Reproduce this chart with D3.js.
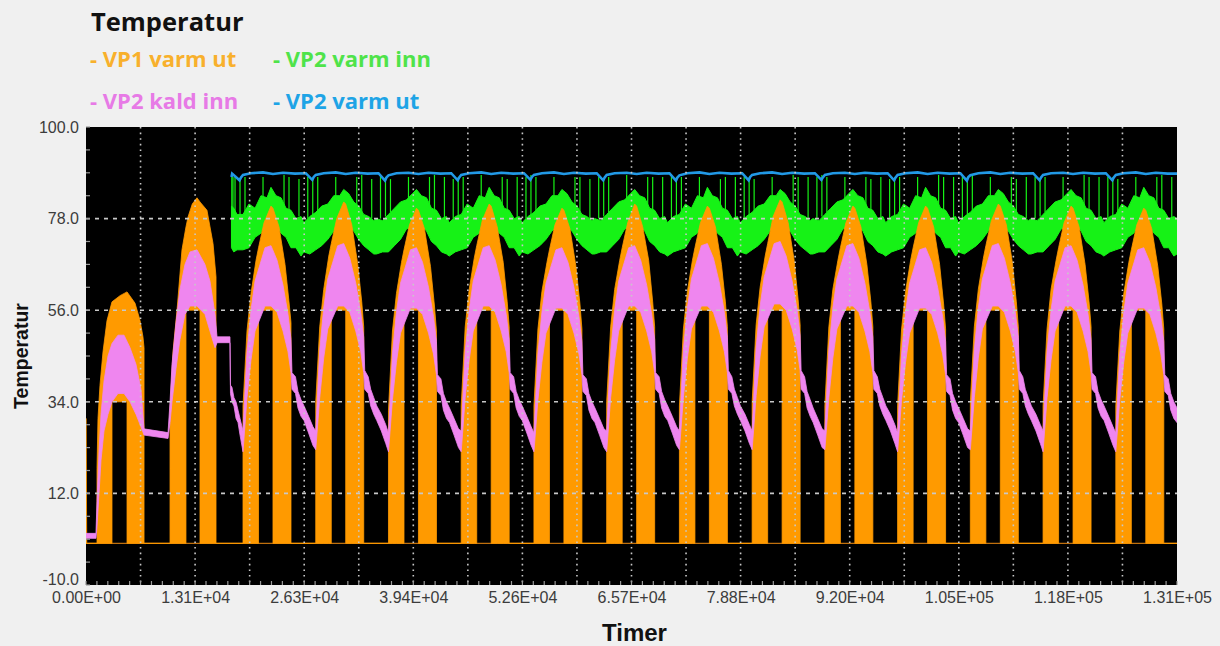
<!DOCTYPE html>
<html>
<head>
<meta charset="utf-8">
<script src="https://cdn.jsdelivr.net/npm/d3@7/dist/d3.min.js"></script>
<style>
  html, body { margin: 0; padding: 0; background: #f0f0f0; }
  svg { display: block; }
</style>
</head>
<body>
<svg id="chart" width="1220" height="646"></svg>
<script>
// ---- Axis ticks (hours / °C) ----
const hourTicks = [0, 13140, 26280, 39420, 52560, 65700, 78840, 91980, 105120, 118260, 131400];
const hourTickLabels = ["0.00E+00", "1.31E+04", "2.63E+04", "3.94E+04", "5.26E+04", "6.57E+04",
                        "7.88E+04", "9.20E+04", "1.05E+05", "1.18E+05", "1.31E+05"];
const tempTicks = [-10, 12, 34, 56, 78, 100];
const seriesNames = ["VP1 varm ut", "VP2 varm inn", "VP2 kald inn", "VP2 varm ut"];

// ---- VP1 varm ut: [hour, lower, upper] envelope of the on/off signal ----
const vp1VarmUt = [
  [0,0,30],[90,0,0],
  [1325,0,0],[1325,0,18],[1445,0,30],[1686,0,38],[2048,0,46],[2529,0,53.5],[3130,0,58],[3130,34,58],[4100,34,59.5],[4940,34,60.4],[4940,0,60.4],[5900,0,57.7],[6500,0,53.6],[6860,0,49.6],[6990,0,47],[6990,0,0],
  [10120,0,0],[10120,0,32],[10480,0,46],[10960,0,56],[11560,0,70.5],[12040,0,76],[12040,56,76],[12290,56,78.4],[12800,56,81.5],[13370,56,83],[13730,56,82],[13730,0,82],[14570,0,80],[15300,0,72],[15660,0,64],[15660,0,0],
  [18910,0,0],[18910,0,33],[19390,0,51],[19870,0,60],[20480,0,68],[20780,0,71],[20780,56,71],[21440,56,77],[22280,56,81],[22520,56,80.5],[22520,0,80.5],[23250,0,76],[23970,0,67],[24450,0,58],[24690,0,53],[24690,0,0],
  [27670,0,0],[27670,0,34],[28150,0,52],[28630,0,61],[29240,0,69],[29540,0,72],[29540,56,72],[30200,56,78],[31040,56,82],[31280,56,81.5],[31280,0,81.5],[32010,0,76.5],[32730,0,67],[33210,0,58],[33450,0,52],[33450,0,0],
  [36430,0,0],[36430,0,32],[36910,0,51],[37390,0,60],[38000,0,67.5],[38300,0,70.5],[38300,56,70.5],[38960,56,76.5],[39800,56,80.5],[40040,56,80],[40040,0,80],[40770,0,75.5],[41490,0,66.5],[41970,0,57],[42210,0,51],[42210,0,0],
  [45190,0,0],[45190,0,33],[45670,0,52],[46150,0,61],[46760,0,68.5],[47060,0,71.5],[47060,56,71.5],[47720,56,77.5],[48560,56,81.5],[48800,56,81],[48800,0,81],[49530,0,76],[50250,0,67.5],[50730,0,58],[50970,0,52],[50970,0,0],
  [53950,0,0],[53950,0,33],[54430,0,51.5],[54910,0,60.5],[55520,0,67.5],[55820,0,70.5],[55820,56,70.5],[56480,56,76.5],[57320,56,80.5],[57560,56,80],[57560,0,80],[58290,0,75.5],[59010,0,66.5],[59490,0,57.5],[59730,0,51.5],[59730,0,0],
  [62710,0,0],[62710,0,34],[63190,0,52],[63670,0,61],[64280,0,68],[64580,0,71],[64580,56,71],[65240,56,77],[66080,56,81.5],[66320,56,81],[66320,0,81],[67050,0,76],[67770,0,68],[68250,0,58],[68490,0,52],[68490,0,0],
  [71470,0,0],[71470,0,33],[71950,0,51.5],[72430,0,60.5],[73040,0,68],[73340,0,71],[73340,56,71],[74000,56,77],[74840,56,81],[75080,56,80.5],[75080,0,80.5],[75810,0,76],[76530,0,67],[77010,0,58],[77250,0,52],[77250,0,0],
  [80230,0,0],[80230,0,34],[80710,0,52.5],[81190,0,61.5],[81800,0,69],[82100,0,72],[82100,56,72],[82760,56,78.5],[83600,56,82.5],[83840,56,82],[83840,0,82],[84570,0,77],[85290,0,68],[85770,0,58.5],[86010,0,52.5],[86010,0,0],
  [88990,0,0],[88990,0,33],[89470,0,52],[89950,0,61],[90560,0,68],[90860,0,71],[90860,56,71],[91520,56,77],[92360,56,81],[92600,56,80.5],[92600,0,80.5],[93330,0,76],[94050,0,67],[94530,0,58],[94770,0,52],[94770,0,0],
  [97750,0,0],[97750,0,33],[98230,0,51.5],[98710,0,60.5],[99320,0,68],[99620,0,71],[99620,56,71],[100280,56,77],[101120,56,81],[101360,56,80.5],[101360,0,80.5],[102090,0,76],[102810,0,67],[103290,0,57.5],[103530,0,51.5],[103530,0,0],
  [106510,0,0],[106510,0,34],[106990,0,52],[107470,0,61],[108080,0,68.5],[108380,0,71.5],[108380,56,71.5],[109040,56,77.5],[109880,56,81.5],[110120,56,81],[110120,0,81],[110850,0,76.5],[111570,0,67.5],[112050,0,58],[112290,0,52],[112290,0,0],
  [115270,0,0],[115270,0,33],[115750,0,51.5],[116230,0,61],[116840,0,68],[117140,0,71],[117140,56,71],[117800,56,77],[118640,56,81],[118880,56,80.5],[118880,0,80.5],[119610,0,76],[120330,0,67],[120810,0,58],[121050,0,52],[121050,0,0],
  [124030,0,0],[124030,0,33],[124510,0,51],[124990,0,60],[125600,0,67.5],[125900,0,70.5],[125900,56,70.5],[126560,56,76.5],[127400,56,80.5],[127640,56,80],[127640,0,80],[128370,0,75.5],[129090,0,66.5],[129570,0,57.5],[129810,0,51.5],[129810,0,0],
  [131400,0,0]
];

// ---- VP2 kald inn: [hour, lower, upper] ----
const vp2KaldInn = [
  [0,1.2,2.4],[1200,1.2,2.4],[1325,4,10],[1570,12,22],[1810,20,31],[2170,27,39],[2650,31,45],[3130,34,48],[3850,36,50],[4580,36,50],[5300,34,47],[6020,31,43],[6620,28,37],[6990,26,27.5],[9880,25.2,26.6],
  [10120,29,34],[10360,34,43],[10840,42,53],[11320,49,61],[11920,55,67],[12530,57,70],[13370,57,70.5],[14330,55,67],[14930,51,63],[15540,47,55],[15780,48.2,49.6],[17340,48.2,49.6],[17400,36,38],[17580,34,37.5],[17820,33,35],[18070,30,34],[18310,29,32],[18550,26,30],
  [18910,22,27],[19390,35,46],[19870,44,56],[20360,51,63],[21560,57,71],[22280,57,71.5],[23010,55.5,68],[23730,51,62],[24330,46,55],[24690,41,49],[24810,37,41],[25230,36,40],[25530,32.5,36.5],[25900,30.5,34.5],[26260,29.5,33],[26810,26.5,30.5],[27340,23.5,28],
  [27670,22.5,27],[28150,35,46.5],[28630,44.5,56.5],[29120,51.5,63.5],[30320,57,71.5],[31040,57,72],[31770,55.5,68.5],[32490,51,62.5],[33090,46,55.5],[33450,41,49.5],[33570,37,41.5],[33990,36,40],[34290,33,37],[34660,31,35],[35020,29.5,33],[35570,27,31],[36100,24,28.5],
  [36430,22,26.5],[36910,34.5,45.5],[37390,43.5,55.5],[37880,50.5,62.5],[39080,56.5,70.5],[39800,56.5,71],[40530,55,67.5],[41250,50.5,61.5],[41850,45.5,54.5],[42210,40.5,48.5],[42330,36.5,40.5],[42750,35.5,39.5],[43050,32,36],[43420,30,34],[43780,29,32.5],[44330,26,30],[44860,23,27.5],
  [45190,22,27],[45670,35,46],[46150,44,56],[46640,51,63],[47840,57,71],[48560,57,71.5],[49290,55.5,68],[50010,51,62],[50610,46,55],[50970,41,49],[51090,37,41],[51510,36,40],[51810,32.5,36.5],[52180,30.5,34.5],[52540,29.5,33],[53090,26.5,30.5],[53620,23.5,28],
  [53950,22,26.5],[54430,34.5,45.5],[54910,43.5,55.5],[55400,50.5,62.5],[56600,56.5,70.5],[57320,56.5,71],[58050,55,67.5],[58770,50.5,61.5],[59370,45.5,54.5],[59730,40.5,48.5],[59850,36.5,40.5],[60270,35.5,39.5],[60570,32,36],[60940,30,34],[61300,29,32.5],[61850,26,30],[62380,23,27.5],
  [62710,22,27],[63190,35,46],[63670,44,56],[64160,51,63],[65360,57,71],[66080,57,71.5],[66810,55.5,68],[67530,51,62],[68130,46,55],[68490,41,49],[68610,37,41],[69030,36,40],[69330,32.5,36.5],[69700,30.5,34.5],[70060,29.5,33],[70610,26.5,30.5],[71140,23.5,28],
  [71470,22.5,27],[71950,35,46.5],[72430,44.5,56.5],[72920,51.5,63.5],[74120,57,71.5],[74840,57,72],[75570,55.5,68.5],[76290,51,62.5],[76890,46,55.5],[77250,41,49.5],[77370,37,41.5],[77790,36,40],[78090,33,37],[78460,31,35],[78820,29.5,33],[79370,27,31],[79900,24,28.5],
  [80230,22.5,27],[80710,35.5,47],[81190,45,57],[81680,52,64],[82880,57.5,72],[83600,57.5,72.5],[84330,56,69],[85050,51.5,63],[85650,46.5,56],[86010,41.5,50],[86130,37,41.5],[86550,36,40],[86850,32.5,36.5],[87220,30.5,34.5],[87580,29,32.5],[88130,26,30],[88660,23,27.5],
  [88990,22.5,27],[89470,35,46.5],[89950,44.5,56.5],[90440,51.5,63.5],[91640,57,71.5],[92360,57,72],[93090,55.5,68.5],[93810,51,62.5],[94410,46,55.5],[94770,41,49.5],[94890,37,41.5],[95310,36,40],[95610,33,37],[95980,31,35],[96340,29.5,33],[96890,27,31],[97420,24,28.5],
  [97750,22,26.5],[98230,34.5,45.5],[98710,43.5,55.5],[99200,50.5,62.5],[100400,56.5,70.5],[101120,56.5,71],[101850,55,67.5],[102570,50.5,61.5],[103170,45.5,54.5],[103530,40.5,48.5],[103650,36.5,40.5],[104070,35.5,39.5],[104370,32,36],[104740,30,34],[105100,29,32.5],[105650,26,30],[106180,23,27.5],
  [106510,22.5,27],[106990,35,46.5],[107470,44.5,56.5],[107960,51.5,63.5],[109160,57,71.5],[109880,57,72],[110610,55.5,68.5],[111330,51,62.5],[111930,46,55.5],[112290,41,49.5],[112410,37,41.5],[112830,36,40],[113130,33,37],[113500,31,35],[113860,29.5,33],[114410,27,31],[114940,24,28.5],
  [115270,22,27],[115750,35,46],[116230,44,56],[116720,51,63],[117920,57,71],[118640,57,71.5],[119370,55.5,68],[120090,51,62],[120690,46,55],[121050,41,49],[121170,37,41],[121590,36,40],[121890,32.5,36.5],[122260,30.5,34.5],[122620,29.5,33],[123170,26.5,30.5],[123700,23.5,28],
  [124030,22,26.5],[124510,34.5,45.5],[124990,43.5,55.5],[125480,50.5,62.5],[126680,56.5,70.5],[127400,56.5,71],[128130,55,67.5],[128850,50.5,61.5],[129450,45.5,54.5],[129810,40.5,48.5],[129930,36.5,40.5],[130350,35.5,39.5],[130650,32,36],[131020,30,34],[131400,29,32.5]
];

// ---- VP2 varm inn: [hour, lower, upper] band ----
const vp2VarmInn = [
  [17520,71,81],[17800,70,80.5],[18190,70.5,79],
  [18910,70.5,79],[19630,71,81.5],[20360,73.5,80.5],[21080,74.5,83.5],[21800,77,83],[22280,77,85.5],[22880,76.5,83.5],[23490,74.5,83],[24090,73.5,80.5],[24690,71,80],[25290,71,78],[25900,69,78.5],[26230,70,77],[26950,69.5,78.5],
  [27670,70.5,79.5],[28390,71.5,81],[29120,73,81.5],[29840,75,83.5],[30560,76.5,83.5],[31040,77.5,85],[31640,76,84],[32250,75,82],[32850,73,81],[33450,71.5,79],[34050,70.5,78.5],[34660,69.5,77.5],[34990,69.5,78],[35710,70,77.5],
  [36430,70,79],[37150,71.5,80.5],[37880,73,82],[38600,75.5,82.5],[39320,76,84],[39800,77.5,85],[40400,76.5,83.5],[41010,75,83],[41610,72.5,80.5],[42210,71.5,80],[42810,70,78],[43420,69.5,78.5],[43750,69,77],[44470,70,78.5],
  [45190,70.5,79],[45910,71,81.5],[46640,73.5,80.5],[47360,74.5,83.5],[48080,77,83],[48560,77,85.5],[49160,76.5,83.5],[49770,74.5,83],[50370,73.5,80.5],[50970,71,80],[51570,71,78],[52180,69,78.5],[52510,70,77],[53230,69.5,78.5],
  [53950,70.5,79.5],[54670,71.5,81],[55400,73,81.5],[56120,75,83.5],[56840,76.5,83.5],[57320,77.5,85],[57920,76,84],[58530,75,82],[59130,73,81],[59730,71.5,79],[60330,70.5,78.5],[60940,69.5,77.5],[61270,69.5,78],[61990,70,77.5],
  [62710,70,79],[63430,71.5,80.5],[64160,73,82],[64880,75.5,82.5],[65600,76,84],[66080,77.5,85],[66680,76.5,83.5],[67290,75,83],[67890,72.5,80.5],[68490,71.5,80],[69090,70,78],[69700,69.5,78.5],[70030,69,77],[70750,70,78.5],
  [71470,70.5,79],[72190,71,81.5],[72920,73.5,80.5],[73640,74.5,83.5],[74360,77,83],[74840,77,85.5],[75440,76.5,83.5],[76050,74.5,83],[76650,73.5,80.5],[77250,71,80],[77850,71,78],[78460,69,78.5],[78790,70,77],[79510,69.5,78.5],
  [80230,70.5,79.5],[80950,71.5,81],[81680,73,81.5],[82400,75,83.5],[83120,76.5,83.5],[83600,77.5,85],[84200,76,84],[84810,75,82],[85410,73,81],[86010,71.5,79],[86610,70.5,78.5],[87220,69.5,77.5],[87550,69.5,78],[88270,70,77.5],
  [88990,70,79],[89710,71.5,80.5],[90440,73,82],[91160,75.5,82.5],[91880,76,84],[92360,77.5,85],[92960,76.5,83.5],[93570,75,83],[94170,72.5,80.5],[94770,71.5,80],[95370,70,78],[95980,69.5,78.5],[96310,69,77],[97030,70,78.5],
  [97750,70.5,79],[98470,71,81.5],[99200,73.5,80.5],[99920,74.5,83.5],[100640,77,83],[101120,77,85.5],[101720,76.5,83.5],[102330,74.5,83],[102930,73.5,80.5],[103530,71,80],[104130,71,78],[104740,69,78.5],[105070,70,77],[105790,69.5,78.5],
  [106510,70.5,79.5],[107230,71.5,81],[107960,73,81.5],[108680,75,83.5],[109400,76.5,83.5],[109880,77.5,85],[110480,76,84],[111090,75,82],[111690,73,81],[112290,71.5,79],[112890,70.5,78.5],[113500,69.5,77.5],[113830,69.5,78],[114550,70,77.5],
  [115270,70,79],[115990,71.5,80.5],[116720,73,82],[117440,75.5,82.5],[118160,76,84],[118640,77.5,85],[119240,76.5,83.5],[119850,75,83],[120450,72.5,80.5],[121050,71.5,80],[121650,70,78],[122260,69.5,78.5],[122590,69,77],[123310,70,78.5],
  [124030,70.5,79],[124750,71,81.5],[125480,73.5,80.5],[126200,74.5,83.5],[126920,77,83],[127400,77,85.5],[128000,76.5,83.5],[128610,74.5,83],[129210,73.5,80.5],[129810,71,80],[130410,71,78],[131020,69,78.5],[131400,69.5,78]
];

// Short excursions of VP2 varm inn: [hour, from, to]
const vp2VarmInnSpikes = [
  [17560,72,88.5],[17700,71,88],
  [17950,79,88],[18550,78.5,87.5],[19150,79,88],[21320,83,88],[23850,81,88.5],[24450,80,88],[25650,78.5,87.5],
  [26710,78,88],[27310,78.5,87.5],[27910,79.5,88],[30080,82.5,88],[32610,81,88],[33210,79.5,88.5],[34410,78,87.5],
  [35470,78,88],[36070,78.5,88],[36670,79.5,87.5],[38840,82.5,88],[41370,80.5,88],[41970,80,88.5],[43170,78,88],
  [44230,78,87.5],[44830,78.5,88],[45430,79.5,88],[47600,83,88.5],[50130,81,88],[50730,80,87.5],[51930,78,88],
  [52990,78,88],[53590,78.5,88.5],[54190,79.5,88],[56360,82.5,88],[58890,81,88],[59490,79.5,88],[60690,78,87.5],
  [61750,78,88],[62350,78.5,87.5],[62950,79.5,88],[65120,82.5,88.5],[67650,80.5,88],[68250,80,88],[69450,78,88],
  [70510,78,88.5],[71110,78.5,88],[71710,79.5,88],[73880,83,88],[76410,81,87.5],[77010,80,88],[78210,78,88],
  [79270,78,88],[79870,78.5,88],[80470,79.5,87.5],[82640,82.5,88],[85170,81,88.5],[85770,79.5,88],[86970,78,88],
  [88030,78,88],[88630,78.5,88.5],[89230,79.5,88],[91400,82.5,88],[93930,80.5,88],[94530,80,87.5],[95730,78,88],
  [96790,78,87.5],[97390,78.5,88],[97990,79.5,88],[100160,83,88],[102690,81,88.5],[103290,80,88],[104490,78,88],
  [105550,78,88],[106150,78.5,88],[106750,79.5,88.5],[108920,82.5,88],[111450,81,88],[112050,79.5,87.5],[113250,78,88],
  [114310,78,88],[114910,78.5,87.5],[115510,79.5,88],[117680,82.5,88],[120210,80.5,88.5],[120810,80,88],[122010,78,88],
  [123070,78,88],[123670,78.5,88],[124270,79.5,87.5],[126440,83,88],[128970,81,88],[129570,80,88.5],[130770,78,88]
];

// ---- VP2 varm ut: [hour, value] ----
const vp2VarmUt = [
  [17520,88.0],[17600,88.8],
  [18490,87.2],[18670,87.9],[18910,88.5],[19870,88.9],[21320,89.1],[22520,88.7],[23730,89.0],[25170,88.8],[26470,88.9],
  [27250,87.3],[27430,88.0],[27670,88.5],[28630,88.9],[30080,89.1],[31280,88.7],[32490,89.0],[33930,88.8],[35230,88.9],
  [36010,87.1],[36190,87.9],[36430,88.4],[37390,88.9],[38840,89.0],[40040,88.7],[41250,89.0],[42690,88.8],[43990,88.9],
  [44770,87.2],[44950,87.9],[45190,88.5],[46150,88.9],[47600,89.1],[48800,88.7],[50010,89.0],[51450,88.8],[52750,88.9],
  [53530,87.3],[53710,88.0],[53950,88.5],[54910,88.9],[56360,89.1],[57560,88.7],[58770,89.0],[60210,88.8],[61510,88.9],
  [62290,87.2],[62470,87.9],[62710,88.5],[63670,88.9],[65120,89.0],[66320,88.7],[67530,89.0],[68970,88.8],[70270,88.9],
  [71050,87.1],[71230,87.9],[71470,88.4],[72430,88.9],[73880,89.1],[75080,88.7],[76290,89.0],[77730,88.8],[79030,88.9],
  [79810,87.2],[79990,88.0],[80230,88.5],[81190,88.9],[82640,89.1],[83840,88.7],[85050,89.0],[86490,88.8],[87790,88.9],
  [88570,87.3],[88750,87.9],[88990,88.5],[89950,88.9],[91400,89.0],[92600,88.7],[93810,89.0],[95250,88.8],[96550,88.9],
  [97330,87.2],[97510,87.9],[97750,88.5],[98710,88.9],[100160,89.1],[101360,88.7],[102570,89.0],[104010,88.8],[105310,88.9],
  [106090,87.1],[106270,88.0],[106510,88.4],[107470,88.9],[108920,89.1],[110120,88.7],[111330,89.0],[112770,88.8],[114070,88.9],
  [114850,87.2],[115030,87.9],[115270,88.5],[116230,88.9],[117680,89.0],[118880,88.7],[120090,89.0],[121530,88.8],[122830,88.9],
  [123610,87.2],[123790,87.9],[124030,88.5],[124990,88.9],[126440,89.1],[127640,88.7],[128850,89.0],[130290,88.8],[131400,88.8]
];

// ---- Layout ----
const svg = d3.select("#chart");
const plot = { left: 86, right: 1177, top: 127, bottom: 585 };
const colors = {
  "VP1 varm ut": "#ff9a00",
  "VP2 varm inn": "#16f216",
  "VP2 kald inn": "#ef86ef",
  "VP2 varm ut": "#2299e6"
};
const legendColors = {
  "VP1 varm ut": "#f8b02c",
  "VP2 varm inn": "#4fe34a",
  "VP2 kald inn": "#e77ae6",
  "VP2 varm ut": "#1ea4e6"
};

const x = d3.scaleLinear().domain([hourTicks[0], hourTicks[hourTicks.length - 1]]).range([plot.left, plot.right]);
const y = d3.scaleLinear().domain([tempTicks[0], tempTicks[tempTicks.length - 1]]).range([plot.bottom, plot.top]);

// Plot background
svg.append("rect")
  .attr("x", plot.left).attr("y", plot.top)
  .attr("width", plot.right - plot.left).attr("height", plot.bottom - plot.top)
  .attr("fill", "#000");

const clip = svg.append("defs").append("clipPath").attr("id", "plotClip");
clip.append("rect").attr("x", plot.left).attr("y", plot.top)
  .attr("width", plot.right - plot.left).attr("height", plot.bottom - plot.top);

const layer = svg.append("g").attr("clip-path", "url(#plotClip)");

const band = d3.area().x(d => x(d[0])).y0(d => y(d[1])).y1(d => y(d[2]));

// VP2 varm inn band and spikes
layer.append("path").datum(vp2VarmInn)
  .attr("d", band).attr("fill", colors["VP2 varm inn"])
  .attr("stroke", colors["VP2 varm inn"]).attr("stroke-width", 1);
layer.selectAll("line.spike").data(vp2VarmInnSpikes).join("line")
  .attr("class", "spike")
  .attr("x1", d => x(d[0])).attr("x2", d => x(d[0]))
  .attr("y1", d => y(d[1])).attr("y2", d => y(d[2]))
  .attr("stroke", colors["VP2 varm inn"]).attr("stroke-width", 1.2);

// VP2 varm ut line
layer.append("path").datum(vp2VarmUt)
  .attr("d", d3.line().x(d => x(d[0])).y(d => y(d[1])))
  .attr("fill", "none").attr("stroke", colors["VP2 varm ut"]).attr("stroke-width", 2.6);

// VP1 varm ut: resting level line and on/off envelope
const vp1Floor = d3.min(vp1VarmUt, d => d[1]);
layer.append("line")
  .attr("x1", x(d3.min(vp1VarmUt, d => d[0]))).attr("x2", x(d3.max(vp1VarmUt, d => d[0])))
  .attr("y1", y(vp1Floor)).attr("y2", y(vp1Floor))
  .attr("stroke", "#c0700e").attr("stroke-width", 1.3);
layer.append("path").datum(vp1VarmUt)
  .attr("d", band).attr("fill", colors["VP1 varm ut"])
  .attr("stroke", colors["VP1 varm ut"]).attr("stroke-width", 0.8);

// VP2 kald inn band
layer.append("path").datum(vp2KaldInn)
  .attr("d", band).attr("fill", colors["VP2 kald inn"])
  .attr("stroke", colors["VP2 kald inn"]).attr("stroke-width", 0.8);

// Dotted grid on top of the traces
const gridHours = d3.range(hourTicks[1] / 2, hourTicks[hourTicks.length - 1], hourTicks[1] / 2);
svg.append("g").selectAll("line").data(gridHours).join("line")
  .attr("x1", d => x(d)).attr("x2", d => x(d))
  .attr("y1", plot.top).attr("y2", plot.bottom)
  .attr("stroke", "#c8c8c8").attr("stroke-width", 1.6).attr("stroke-dasharray", "1.6,4");
svg.append("g").selectAll("line").data(tempTicks.slice(1, -1)).join("line")
  .attr("x1", plot.left).attr("x2", plot.right)
  .attr("y1", d => y(d)).attr("y2", d => y(d))
  .attr("stroke", "#c8c8c8").attr("stroke-width", 1.6).attr("stroke-dasharray", "4,5");

// Minor ticks inside the frame
const minorHours = d3.range(0, hourTicks[hourTicks.length - 1] + 1, hourTicks[1] / 10);
svg.append("g").selectAll("line").data(minorHours).join("line")
  .attr("x1", d => x(d)).attr("x2", d => x(d))
  .attr("y1", plot.bottom).attr("y2", plot.bottom - 4)
  .attr("stroke", "#9a9a9a").attr("stroke-width", 1.2);
const minorTemps = d3.range(tempTicks[0], tempTicks[tempTicks.length - 1] + 0.01, (tempTicks[1] - tempTicks[0]) / 4);
svg.append("g").selectAll("line").data(minorTemps).join("line")
  .attr("x1", plot.left).attr("x2", plot.left + 4)
  .attr("y1", d => y(d)).attr("y2", d => y(d))
  .attr("stroke", "#9a9a9a").attr("stroke-width", 1.2);

// Axes
const tickFont = "'Liberation Sans', Arial, sans-serif";
const xAxis = d3.axisBottom(x).tickValues(hourTicks)
  .tickFormat((d, i) => hourTickLabels[i]).tickSize(0).tickPadding(7);
const gx = svg.append("g").attr("transform", `translate(0,${plot.bottom})`).call(xAxis);
gx.select(".domain").remove();
gx.selectAll("text").attr("font-family", tickFont).attr("font-size", 16).attr("fill", "#3c3c3c");

const yAxis = d3.axisLeft(y).tickValues(tempTicks).tickFormat(d => d.toFixed(1)).tickSize(0).tickPadding(7);
const gy = svg.append("g").attr("transform", `translate(${plot.left},0)`).call(yAxis);
gy.select(".domain").remove();
gy.selectAll("text").attr("font-family", tickFont).attr("font-size", 16).attr("fill", "#3c3c3c")
  .attr("dy", d => d === tempTicks[0] ? "-0.02em" : "0.33em");

// Axis titles
svg.append("text")
  .attr("x", (plot.left + plot.right) / 2 + 3).attr("y", 641)
  .attr("text-anchor", "middle")
  .attr("font-family", tickFont)
  .attr("font-weight", "bold").attr("font-size", 24).attr("fill", "#111")
  .text("Timer");
svg.append("text")
  .attr("transform", `translate(28,${(plot.top + plot.bottom) / 2})rotate(-90)`)
  .attr("text-anchor", "middle")
  .attr("font-family", tickFont)
  .attr("font-weight", "bold").attr("font-size", 19.5).attr("fill", "#111")
  .text("Temperatur");

// Title and legend
svg.append("text")
  .attr("x", 91).attr("y", 31)
  .attr("font-family", "'Open Sans', sans-serif")
  .attr("font-weight", 700).attr("font-size", 25.5).attr("fill", "#111")
  .text("Temperatur");

svg.append("g").selectAll("text").data(seriesNames).join("text")
  .attr("x", (d, i) => i % 2 === 0 ? 90 : 273)
  .attr("y", (d, i) => i < 2 ? 67 : 109)
  .attr("font-family", "'Open Sans', sans-serif")
  .attr("font-weight", 700).attr("font-size", 22)
  .attr("fill", d => legendColors[d])
  .text(d => "- " + d);
</script>
</body>
</html>
